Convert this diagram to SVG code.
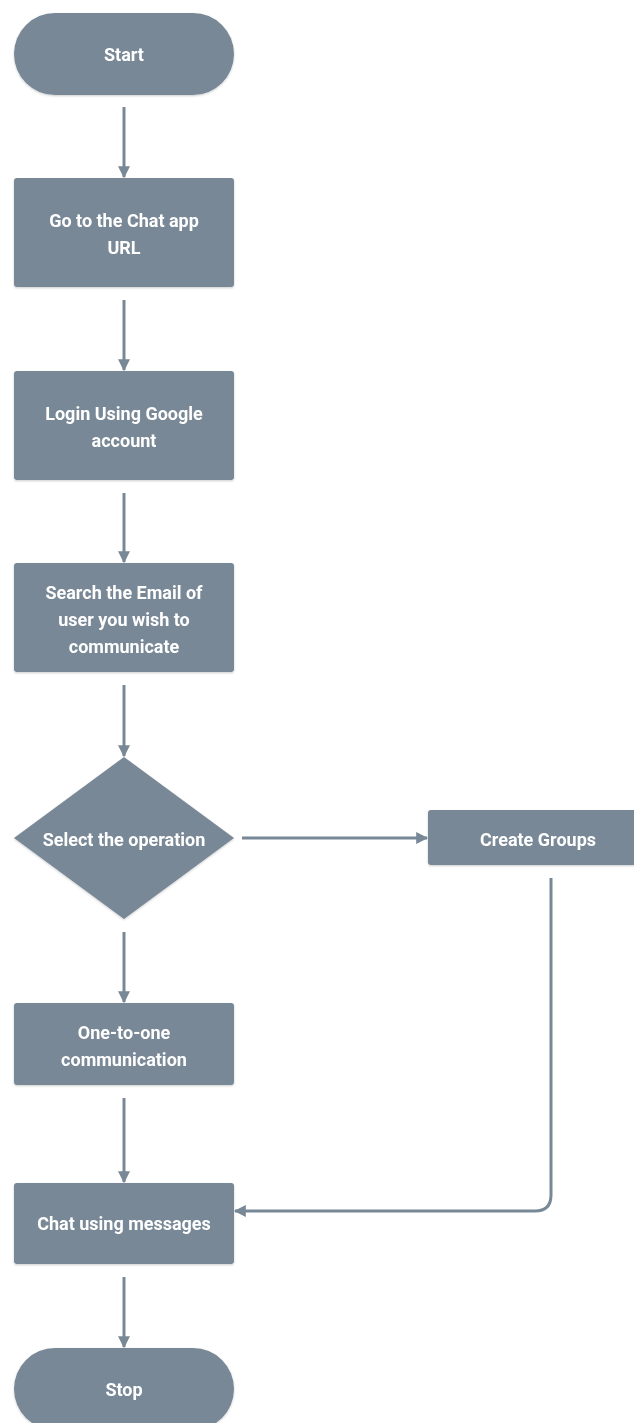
<svg xmlns="http://www.w3.org/2000/svg" width="634" height="1423" viewBox="0 0 634 1423">
<defs>
<style>
.n{fill:#788896}
.t{fill:#ffffff;font-family:Roboto,"Liberation Sans",sans-serif;font-weight:bold;font-size:18px;text-anchor:middle}
.c{fill:none;stroke:#788896;stroke-width:3}
</style>
<marker id="ah" viewBox="0 0 10 10" refX="9" refY="5" markerWidth="4" markerHeight="4" markerUnits="strokeWidth" orient="auto">
<path d="M0,0 L10,5 L0,10 z" fill="#788896"/>
</marker>
<filter id="sh" x="-10%" y="-10%" width="120%" height="130%">
<feDropShadow dx="0" dy="1" stdDeviation="1.2" flood-color="#000" flood-opacity="0.2"/>
</filter>
</defs>
<rect width="634" height="1423" fill="#ffffff"/>
<g id="connectors">
<path class="c" d="M124,107 V177" marker-end="url(#ah)"/>
<path class="c" d="M124,300 V370" marker-end="url(#ah)"/>
<path class="c" d="M124,493 V562" marker-end="url(#ah)"/>
<path class="c" d="M124,685 V756" marker-end="url(#ah)"/>
<path class="c" d="M242,838 H427" marker-end="url(#ah)"/>
<path class="c" d="M124,932 V1002" marker-end="url(#ah)"/>
<path class="c" d="M124,1098 V1182" marker-end="url(#ah)"/>
<path class="c" d="M124,1277 V1347" marker-end="url(#ah)"/>
<path class="c" d="M551,878 V1195 Q551,1211 535,1211 H235" marker-end="url(#ah)"/>
</g>
<g id="start" filter="url(#sh)">
<rect class="n" x="14" y="13" width="220" height="82" rx="41"/>
<text class="t" x="124" y="61">Start</text>
</g>
<g id="goto" filter="url(#sh)">
<rect class="n" x="14" y="178" width="220" height="109" rx="3"/>
<text class="t" x="124" y="227">Go to the Chat app</text>
<text class="t" x="124" y="254">URL</text>
</g>
<g id="login" filter="url(#sh)">
<rect class="n" x="14" y="371" width="220" height="109" rx="3"/>
<text class="t" x="124" y="420">Login Using Google</text>
<text class="t" x="124" y="447">account</text>
</g>
<g id="search" filter="url(#sh)">
<rect class="n" x="14" y="563" width="220" height="109" rx="3"/>
<text class="t" x="124" y="599">Search the Email of</text>
<text class="t" x="124" y="626">user you wish to</text>
<text class="t" x="124" y="653">communicate</text>
</g>
<g id="select" filter="url(#sh)">
<path class="n" d="M124,757 L234,838 L124,919 L14,838 Z"/>
<text class="t" x="124" y="846">Select the operation</text>
</g>
<g id="groups" filter="url(#sh)">
<rect class="n" x="428" y="810" width="210" height="55" rx="3"/>
<text class="t" x="538" y="846">Create Groups</text>
</g>
<g id="onetoone" filter="url(#sh)">
<rect class="n" x="14" y="1003" width="220" height="82" rx="3"/>
<text class="t" x="124" y="1039">One-to-one</text>
<text class="t" x="124" y="1066">communication</text>
</g>
<g id="chat" filter="url(#sh)">
<rect class="n" x="14" y="1183" width="220" height="81" rx="3"/>
<text class="t" x="124" y="1230">Chat using messages</text>
</g>
<g id="stop" filter="url(#sh)">
<rect class="n" x="14" y="1348" width="220" height="82" rx="41"/>
<text class="t" x="124" y="1396">Stop</text>
</g>
</svg>
